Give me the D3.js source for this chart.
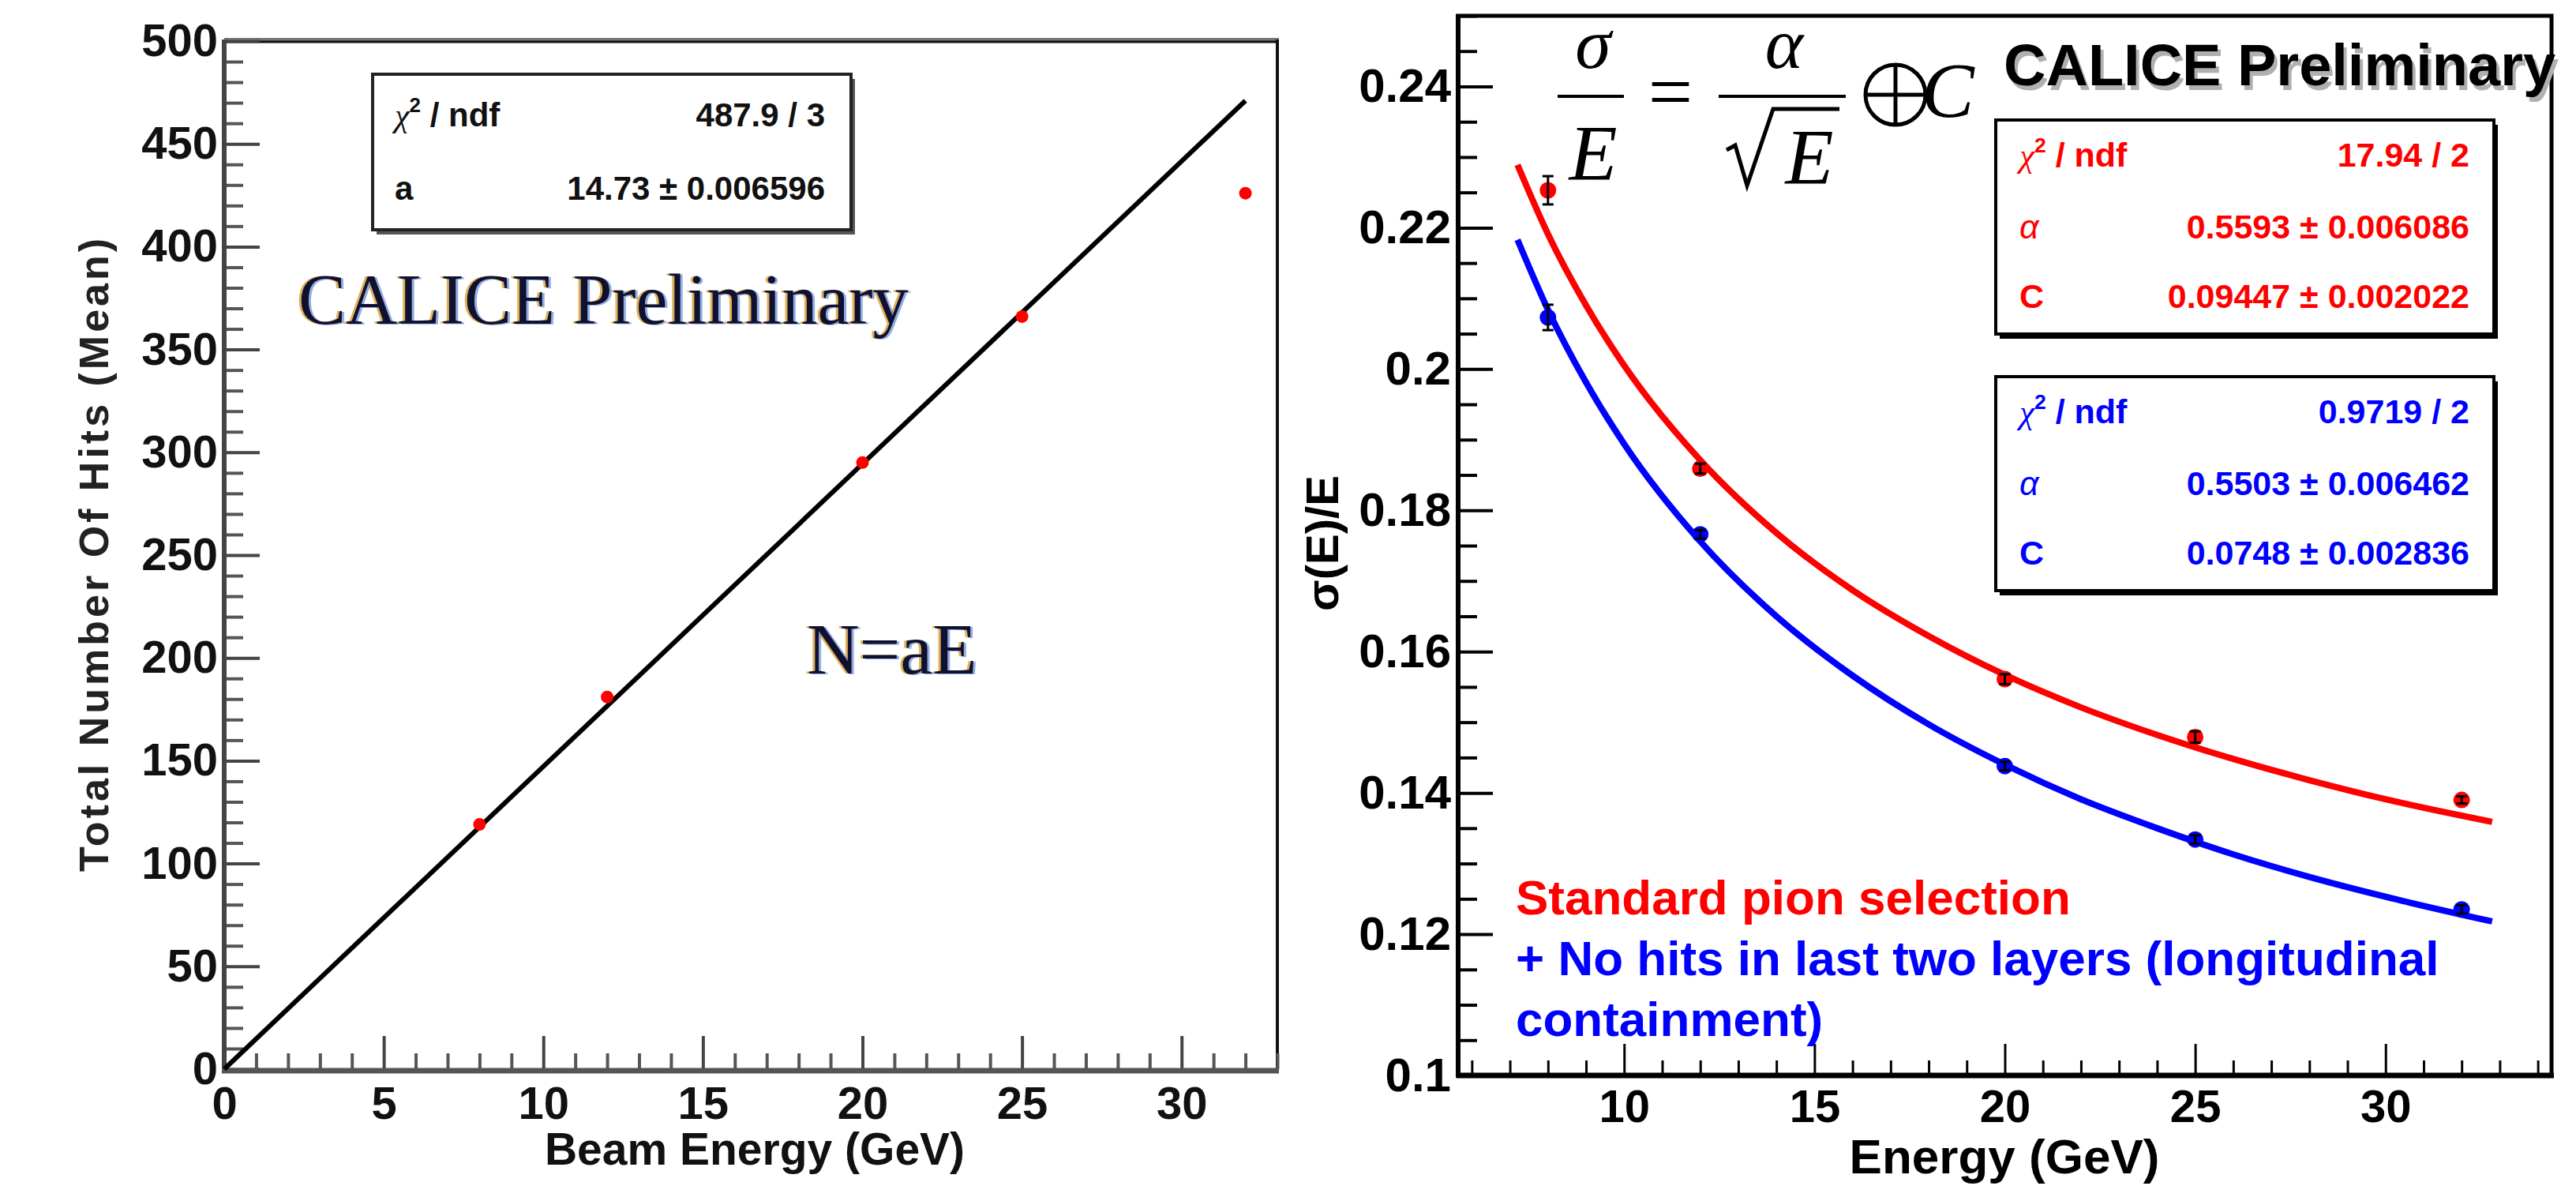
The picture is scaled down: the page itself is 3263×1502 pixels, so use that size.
<!DOCTYPE html>
<html>
<head>
<meta charset="utf-8">
<script src="https://d3js.org/d3.v7.min.js"></script>
<style>
body, html { margin: 0; padding: 0; background: #fff; }
svg text { font-family: "Liberation Sans", Arial, sans-serif; }
svg text.serif { font-family: "Liberation Serif", "Times New Roman", serif; }
</style>
</head>
<body>
<div id="chart"></div>
<script>
// ---- left panel : total number of hits vs beam energy
var hitsEnergy = [8, 12, 20, 25, 32];
var hitsMean = [119, 181, 295, 366, 426];
var hitsFitEnergy = [0, 32];
var hitsFitMean = [0, 471];
var leftXTicks = [0, 5, 10, 15, 20, 25, 30];
var leftYTicks = [0, 50, 100, 150, 200, 250, 300, 350, 400, 450, 500];
var leftStats = [["a", "14.73 ± 0.006596"]];

// ---- right panel : energy resolution
var resEnergy = [8, 12, 20, 25, 32];
var resStandard = [0.2253, 0.1859, 0.1561, 0.1479, 0.1390];
var resStandardErr = [0.0020, 0.0007, 0.0007, 0.0008, 0.0005];
var resContained = [0.2073, 0.1766, 0.1438, 0.1334, 0.1235];
var resContainedErr = [0.0018, 0.0006, 0.0006, 0.0006, 0.0006];
// fit curves
var fitEnergy = [7.2, 8, 9, 10, 12, 14, 16, 18, 20, 22, 24, 26, 28, 30, 32.8];
var fitStandard = [0.2289, 0.2191, 0.2090, 0.2005, 0.1871, 0.1768, 0.1687, 0.1622, 0.1567, 0.1521, 0.1482, 0.1448, 0.1418, 0.1391, 0.1359];
var fitContained = [0.2183, 0.2084, 0.1981, 0.1894, 0.1756, 0.1650, 0.1566, 0.1497, 0.1440, 0.1391, 0.1350, 0.1313, 0.1281, 0.1253, 0.1218];
var rightXTicks = [10, 15, 20, 25, 30];
var rightYTicks = [0.1, 0.12, 0.14, 0.16, 0.18, 0.2, 0.22, 0.24];
var redStats = [["0.5593 ± 0.006086", "α"], ["0.09447 ± 0.002022", "C"]];
var redChi = "17.94 / 2";
var blueStats = [["0.5503 ± 0.006462", "α"], ["0.0748 ± 0.002836", "C"]];
var blueChi = "0.9719 / 2";
var leftChi = "487.9 / 3";
var legendLines = [
  {text: "Standard pion selection", color: "#ff0000"},
  {text: "+ No hits in last two layers (longitudinal", color: "#0000ff"},
  {text: "containment)", color: "#0000ff"}
];

var width = 3263, height = 1502;
var svg = d3.select("#chart").append("svg")
  .attr("width", width)
  .attr("height", height);
svg.append("rect").attr("width", width).attr("height", height).attr("fill", "#fff");

// =============== LEFT PANEL ===============
var xL = d3.scaleLinear().domain([0, 33]).range([284, 1618]);
var yL = d3.scaleLinear().domain([0, 500]).range([1354, 52]);
var left = svg.append("g");

// frame
left.append("line").attr("x1", 284).attr("x2", 1620).attr("y1", 50).attr("y2", 50)
  .attr("stroke", "#777").attr("stroke-width", 4);
left.append("line").attr("x1", 284).attr("x2", 1620).attr("y1", 53).attr("y2", 53)
  .attr("stroke", "#111").attr("stroke-width", 3);
left.append("line").attr("x1", 1618).attr("x2", 1618).attr("y1", 50).attr("y2", 1356)
  .attr("stroke", "#111").attr("stroke-width", 4);

// y axis ticks (inside)
var leftMinorY = d3.range(0, 501, 10).filter(function(v) { return v % 50 !== 0; });
left.append("g").attr("transform", "translate(284,0)")
  .call(d3.axisLeft(yL).tickValues(leftMinorY).tickSize(-24).tickFormat(""))
  .call(function(g) { g.select(".domain").remove(); g.selectAll("line").attr("stroke", "#555").attr("stroke-width", 4); });
left.append("g").attr("transform", "translate(284,0)")
  .call(d3.axisLeft(yL).tickValues(leftYTicks).tickSize(-45).tickPadding(8))
  .call(function(g) {
    g.select(".domain").remove();
    g.selectAll("line").attr("stroke", "#444").attr("stroke-width", 4);
    g.selectAll("text").attr("font-size", 58).attr("font-weight", "bold").attr("fill", "#111")
      .attr("font-family", "'Liberation Sans', Arial, sans-serif");
  });

// x axis ticks (upwards)
var leftMinorX = d3.range(0, 34, 1).filter(function(v) { return v % 5 !== 0; });
left.append("g").attr("transform", "translate(0,1354)")
  .call(d3.axisBottom(xL).tickValues(leftMinorX).tickSize(-20).tickFormat(""))
  .call(function(g) { g.select(".domain").remove(); g.selectAll("line").attr("stroke", "#555").attr("stroke-width", 4); });
left.append("g").attr("transform", "translate(0,1354)")
  .call(d3.axisBottom(xL).tickValues(leftXTicks).tickSize(-42).tickPadding(22))
  .call(function(g) {
    g.select(".domain").remove();
    g.selectAll("line").attr("stroke", "#444").attr("stroke-width", 4);
    g.selectAll("text").attr("font-size", 58).attr("font-weight", "bold").attr("fill", "#111")
      .attr("font-family", "'Liberation Sans', Arial, sans-serif");
  });

// axis lines
left.append("line").attr("x1", 284).attr("x2", 284).attr("y1", 50).attr("y2", 1357)
  .attr("stroke", "#444").attr("stroke-width", 6);
left.append("line").attr("x1", 281).attr("x2", 1620).attr("y1", 1356).attr("y2", 1356)
  .attr("stroke", "#555").attr("stroke-width", 7);

// axis titles
left.append("text")
  .attr("transform", "translate(137,701) rotate(-90)")
  .attr("text-anchor", "middle")
  .attr("font-size", 52).attr("font-weight", "bold").attr("letter-spacing", 4).attr("fill", "#222")
  .text("Total Number Of Hits (Mean)");
left.append("text")
  .attr("x", 956).attr("y", 1475)
  .attr("text-anchor", "middle")
  .attr("font-size", 57).attr("font-weight", "bold").attr("fill", "#111")
  .text("Beam Energy (GeV)");

// fit line
var hitsFit = hitsFitEnergy.map(function(e, i) { return [e, hitsFitMean[i]]; });
left.append("path")
  .datum(hitsFit)
  .attr("fill", "none").attr("stroke", "#000").attr("stroke-width", 6)
  .attr("d", d3.line().x(function(d) { return xL(d[0]); }).y(function(d) { return yL(d[1]); }));

// data points
left.selectAll("circle.hit")
  .data(hitsEnergy.map(function(e, i) { return [e, hitsMean[i]]; }))
  .enter().append("circle")
  .attr("class", "hit")
  .attr("cx", function(d) { return xL(d[0]); })
  .attr("cy", function(d) { return yL(d[1]); })
  .attr("r", 8)
  .attr("fill", "#ff0000");

// stats box
function statsBox(g, x, y, w, h, color, shadow) {
  g.append("rect").attr("x", x + 5).attr("y", y + 6).attr("width", w).attr("height", h).attr("fill", shadow);
  g.append("rect").attr("x", x).attr("y", y).attr("width", w).attr("height", h)
    .attr("fill", "#fff").attr("stroke", color).attr("stroke-width", 4);
}
function chiLabel(g, x, y, size, color) {
  var t = g.append("text").attr("x", x).attr("y", y).attr("font-size", size)
    .attr("font-weight", "bold").attr("fill", color);
  t.append("tspan").attr("font-weight", "normal").attr("font-family", "'Liberation Serif', serif").attr("font-style", "italic").text("χ");
  t.append("tspan").attr("font-size", size * 0.62).attr("dy", -size * 0.42).text("2");
  t.append("tspan").attr("dy", size * 0.42).text(" / ndf");
}
statsBox(left, 472, 94, 606, 197, "#222", "#555");
chiLabel(left, 500, 160, 42, "#111");
left.append("text").attr("x", 1045).attr("y", 160).attr("text-anchor", "end")
  .attr("font-size", 42).attr("font-weight", "bold").attr("fill", "#111").text(leftChi);
left.selectAll("text.lstat").data(leftStats).enter().append("text")
  .attr("class", "lstat").attr("x", 500).attr("y", 253)
  .attr("font-size", 42).attr("font-weight", "bold").attr("fill", "#111")
  .text(function(d) { return d[0]; });
left.selectAll("text.lval").data(leftStats).enter().append("text")
  .attr("class", "lval").attr("x", 1045).attr("y", 253).attr("text-anchor", "end")
  .attr("font-size", 42).attr("font-weight", "bold").attr("fill", "#111")
  .text(function(d) { return d[1]; });

// CALICE Preliminary + N=aE (serif, with colour fringes)
function fringeText(g, x, y, size, str) {
  g.append("text").attr("class", "serif").attr("x", x - 3).attr("y", y).attr("font-size", size)
    .attr("fill", "#d8a030").attr("opacity", 0.8).text(str);
  g.append("text").attr("class", "serif").attr("x", x + 3).attr("y", y + 1).attr("font-size", size)
    .attr("fill", "#4a7ad0").attr("opacity", 0.6).text(str);
  g.append("text").attr("class", "serif").attr("x", x).attr("y", y).attr("font-size", size)
    .attr("fill", "#101030").text(str);
}
fringeText(left, 378, 410, 90, "CALICE Preliminary");
fringeText(left, 1022, 853, 92, "N=aE");

// =============== RIGHT PANEL ===============
var xR = d3.scaleLinear().domain([5.64, 34.36]).range([1847, 3232]);
var yR = d3.scaleLinear().domain([0.1, 0.25]).range([1362, 20]);
var right = svg.append("g");

right.append("rect").attr("x", 1847).attr("y", 20).attr("width", 3232 - 1847).attr("height", 1362 - 20)
  .attr("fill", "none").attr("stroke", "#000").attr("stroke-width", 5);

var rightMinorY = d3.range(0, 31).map(function(i) { return 0.1 + i * 0.005; })
  .filter(function(v, i) { return i % 4 !== 0; });
right.append("g").attr("transform", "translate(1847,0)")
  .call(d3.axisLeft(yR).tickValues(rightMinorY).tickSize(-24).tickFormat(""))
  .call(function(g) { g.select(".domain").remove(); g.selectAll("line").attr("stroke", "#000").attr("stroke-width", 4); });
right.append("g").attr("transform", "translate(1847,0)")
  .call(d3.axisLeft(yR).tickValues(rightYTicks).tickSize(-44).tickPadding(9).tickFormat(d3.format("~g")))
  .call(function(g) {
    g.select(".domain").remove();
    g.selectAll("line").attr("stroke", "#000").attr("stroke-width", 4);
    g.selectAll("text").attr("font-size", 60).attr("font-weight", "bold").attr("fill", "#000")
      .attr("font-family", "'Liberation Sans', Arial, sans-serif");
  });

var rightMinorX = d3.range(6, 35, 1).filter(function(v) { return v % 5 !== 0; });
right.append("g").attr("transform", "translate(0,1362)")
  .call(d3.axisBottom(xR).tickValues(rightMinorX).tickSize(-19).tickFormat(""))
  .call(function(g) { g.select(".domain").remove(); g.selectAll("line").attr("stroke", "#000").attr("stroke-width", 3); });
right.append("g").attr("transform", "translate(0,1362)")
  .call(d3.axisBottom(xR).tickValues(rightXTicks).tickSize(-40).tickPadding(18))
  .call(function(g) {
    g.select(".domain").remove();
    g.selectAll("line").attr("stroke", "#000").attr("stroke-width", 3);
    g.selectAll("text").attr("font-size", 58).attr("font-weight", "bold").attr("fill", "#000")
      .attr("font-family", "'Liberation Sans', Arial, sans-serif");
  });

right.append("line").attr("x1", 1845).attr("x2", 3235).attr("y1", 1362).attr("y2", 1362)
  .attr("stroke", "#000").attr("stroke-width", 7);
right.append("line").attr("x1", 1847).attr("x2", 1847).attr("y1", 18).attr("y2", 1365)
  .attr("stroke", "#000").attr("stroke-width", 6);

right.append("text")
  .attr("transform", "translate(1695,688) rotate(-90)")
  .attr("text-anchor", "middle")
  .attr("font-size", 58).attr("font-weight", "bold").attr("fill", "#000")
  .text("σ(E)/E");
right.append("text")
  .attr("x", 2539).attr("y", 1486).attr("text-anchor", "middle")
  .attr("font-size", 62).attr("font-weight", "bold").attr("fill", "#000")
  .text("Energy (GeV)");

// fit curves
var fitLine = d3.line().curve(d3.curveMonotoneX)
  .x(function(d) { return xR(d[0]); }).y(function(d) { return yR(d[1]); });
right.append("path")
  .datum(fitEnergy.map(function(e, i) { return [e, fitStandard[i]]; }))
  .attr("fill", "none").attr("stroke", "#ff0000").attr("stroke-width", 8).attr("d", fitLine);
right.append("path")
  .datum(fitEnergy.map(function(e, i) { return [e, fitContained[i]]; }))
  .attr("fill", "none").attr("stroke", "#0000ff").attr("stroke-width", 8).attr("d", fitLine);

// points with error bars
function drawSeries(vals, errs, color) {
  var data = resEnergy.map(function(e, i) { return {e: e, v: vals[i], err: errs[i]}; });
  var g = right.append("g");
  g.selectAll("circle").data(data).enter().append("circle")
    .attr("cx", function(d) { return xR(d.e); })
    .attr("cy", function(d) { return yR(d.v); })
    .attr("r", 10.5).attr("fill", color);
  var eb = g.selectAll("g.err").data(data).enter().append("g").attr("class", "err");
  eb.append("line")
    .attr("x1", function(d) { return xR(d.e); }).attr("x2", function(d) { return xR(d.e); })
    .attr("y1", function(d) { return yR(d.v - d.err); }).attr("y2", function(d) { return yR(d.v + d.err); })
    .attr("stroke", "#000").attr("stroke-width", 3);
  [-1, 1].forEach(function(s) {
    eb.append("line")
      .attr("x1", function(d) { return xR(d.e) - 7; }).attr("x2", function(d) { return xR(d.e) + 7; })
      .attr("y1", function(d) { return yR(d.v + s * d.err); }).attr("y2", function(d) { return yR(d.v + s * d.err); })
      .attr("stroke", "#000").attr("stroke-width", 3);
  });
}
drawSeries(resStandard, resStandardErr, "#ff0000");
drawSeries(resContained, resContainedErr, "#0000ff");

// fit stat boxes
function fitBox(y0, color, chi, rows) {
  statsBox(right, 2528, y0, 631, 271, "#000", "#000");
  chiLabel(right, 2558, y0 + 59, 43, color);
  right.append("text").attr("x", 3128).attr("y", y0 + 59).attr("text-anchor", "end")
    .attr("font-size", 43).attr("font-weight", "bold").attr("fill", color).text(chi);
  rows.forEach(function(r, i) {
    var yy = y0 + 150 + i * 88;
    right.append("text").attr("x", 2558).attr("y", yy).attr("font-size", 43)
      .attr("font-weight", r[1] === "C" ? "bold" : "normal")
      .attr("font-family", r[1] === "C" ? "'Liberation Sans', Arial, sans-serif" : "'Liberation Serif', serif")
      .attr("font-style", r[1] === "C" ? "normal" : "italic")
      .attr("fill", color).text(r[1]);
    right.append("text").attr("x", 3128).attr("y", yy).attr("text-anchor", "end")
      .attr("font-size", 43).attr("font-weight", "bold").attr("fill", color).text(r[0]);
  });
}
fitBox(152, "#ff0000", redChi, redStats);
fitBox(477, "#0000ff", blueChi, blueStats);

// CALICE Preliminary (right)
right.append("text").attr("x", 2542).attr("y", 114).attr("font-size", 74).attr("font-weight", "bold")
  .attr("fill", "#b0b0b0").text("CALICE Preliminary");
right.append("text").attr("x", 2538).attr("y", 108).attr("font-size", 74).attr("font-weight", "bold")
  .attr("fill", "#000").text("CALICE Preliminary");

// formula  sigma/E = alpha/sqrt(E) (+) C
var eq = right.append("g").attr("fill", "#000");
eq.append("text").attr("class", "serif").attr("x", 2018).attr("y", 86).attr("text-anchor", "middle")
  .attr("font-size", 92).attr("font-style", "italic").text("σ");
eq.append("line").attr("x1", 1973).attr("x2", 2057).attr("y1", 122).attr("y2", 122).attr("stroke", "#000").attr("stroke-width", 4);
eq.append("text").attr("class", "serif").attr("x", 2018).attr("y", 227).attr("text-anchor", "middle")
  .attr("font-size", 100).attr("font-style", "italic").text("E");
eq.append("text").attr("class", "serif").attr("x", 2116).attr("y", 150).attr("text-anchor", "middle")
  .attr("font-size", 100).text("=");
eq.append("text").attr("class", "serif").attr("x", 2260).attr("y", 86).attr("text-anchor", "middle")
  .attr("font-size", 92).attr("font-style", "italic").text("α");
eq.append("line").attr("x1", 2177).attr("x2", 2338).attr("y1", 122).attr("y2", 122).attr("stroke", "#000").attr("stroke-width", 4);
eq.append("path").attr("d", "M2187,190 L2198,184 L2213,235 L2246,138 L2330,138")
  .attr("fill", "none").attr("stroke", "#000").attr("stroke-width", 5).attr("stroke-linejoin", "miter");
eq.append("text").attr("class", "serif").attr("x", 2292).attr("y", 232).attr("text-anchor", "middle")
  .attr("font-size", 100).attr("font-style", "italic").text("E");
eq.append("circle").attr("cx", 2401).attr("cy", 120).attr("r", 38).attr("fill", "none").attr("stroke", "#000").attr("stroke-width", 5);
eq.append("line").attr("x1", 2363).attr("x2", 2439).attr("y1", 120).attr("y2", 120).attr("stroke", "#000").attr("stroke-width", 5);
eq.append("line").attr("x1", 2401).attr("x2", 2401).attr("y1", 82).attr("y2", 158).attr("stroke", "#000").attr("stroke-width", 5);
eq.append("text").attr("class", "serif").attr("x", 2434).attr("y", 148)
  .attr("font-size", 100).attr("font-style", "italic").text("C");

// legend text
right.selectAll("text.leg").data(legendLines).enter().append("text")
  .attr("class", "leg")
  .attr("x", 1920)
  .attr("y", function(d, i) { return 1158 + i * 77; })
  .attr("font-size", 62).attr("font-weight", "bold")
  .attr("fill", function(d) { return d.color; })
  .text(function(d) { return d.text; });
</script>
</body>
</html>
